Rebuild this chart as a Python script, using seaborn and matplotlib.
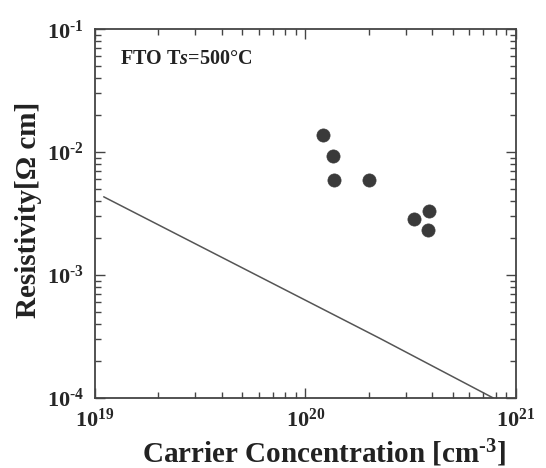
import numpy as np
import pandas as pd
import matplotlib
matplotlib.use("Agg")
import matplotlib.pyplot as plt
from matplotlib.ticker import LogLocator, FuncFormatter, NullFormatter
import seaborn as sns

# Measured FTO films (Ts = 500 °C)
carrier_conc = [1.21e20, 1.35e20, 1.37e20, 2.00e20, 3.29e20, 3.85e20, 3.82e20]
resistivity = [1.37e-2, 9.27e-3, 5.89e-3, 5.89e-3, 2.87e-3, 3.31e-3, 2.33e-3]

# Reference limit curve
limit_conc = [1.10e19, 2.26e20, 7.80e20]
limit_rho = [4.33e-3, 3.05e-4, 1.00e-4]

x_ticks = [1e19, 1e20, 1e21]
y_ticks = [1e-4, 1e-3, 1e-2, 1e-1]

sns.set_theme(style="ticks")
plt.rcParams["font.family"] = ["Liberation Serif", "DejaVu Serif"]
plt.rcParams["font.weight"] = "bold"
plt.rcParams["mathtext.fontset"] = "custom"
plt.rcParams["mathtext.rm"] = "Liberation Serif:bold"
plt.rcParams["mathtext.bf"] = "Liberation Serif:bold"
plt.rcParams["mathtext.it"] = "Liberation Serif:bold:italic"
plt.rcParams["axes.unicode_minus"] = False

points = pd.DataFrame({"conc": carrier_conc, "rho": resistivity})
limit = pd.DataFrame({"conc": limit_conc, "rho": limit_rho})

fig = plt.figure(figsize=(5.46, 4.68), dpi=100)
ax = fig.add_axes([0.174, 0.1496, 0.771, 0.788])

sns.lineplot(data=limit, x="conc", y="rho", ax=ax, color="#555555",
             linewidth=1.1, sort=False)
sns.scatterplot(data=points, x="conc", y="rho", ax=ax, color="#3a3a3a",
                s=90, edgecolor="#3a3a3a", linewidth=0.5, zorder=3)

ax.set_xscale("log")
ax.set_yscale("log")
ax.set_xlim(1e19, 1e21)
ax.set_ylim(1e-4, 1e-1)


def pow_label(v, pos):
    e = int(round(np.log10(v)))
    exp = (r"\text{-}%d" % -e) if e < 0 else "%d" % e
    return r"$\mathbf{10^{%s}}$" % exp


pow_fmt = FuncFormatter(pow_label)
ax.set_xticks(x_ticks)
ax.set_yticks(y_ticks)
ax.xaxis.set_major_formatter(pow_fmt)
ax.yaxis.set_major_formatter(pow_fmt)
ax.xaxis.set_minor_locator(LogLocator(base=10, subs=np.arange(2, 10)))
ax.yaxis.set_minor_locator(LogLocator(base=10, subs=np.arange(2, 10)))
ax.xaxis.set_minor_formatter(NullFormatter())
ax.yaxis.set_minor_formatter(NullFormatter())

ax.tick_params(which="both", direction="in", top=True, right=True,
               color="#444444", width=1.0)
ax.tick_params(which="major", length=7, labelsize=16)
ax.tick_params(which="minor", length=4)
ax.tick_params(axis="x", which="major", pad=8)
ax.tick_params(axis="y", which="major", pad=8)

for sp in ax.spines.values():
    sp.set_color("#444444")
    sp.set_linewidth(1.3)

ax.set_xlabel(r"Carrier Concentration [cm$^{\text{-}3}$]", fontsize=21,
              fontweight="bold", color="#222222")
ax.xaxis.set_label_coords(0.545, -0.106)
ax.set_ylabel("Resistivity[Ω cm]", fontsize=21, fontweight="bold",
              color="#222222")
ax.yaxis.set_label_coords(-0.126, 0.51)

ax.text(0.059, 0.919, r"FTO T$\mathit{s}$=500°C", transform=ax.transAxes,
        fontsize=14.5, fontweight="bold", va="center", ha="left",
        color="#222222")

fig.savefig("out.png", dpi=100, facecolor="white")
